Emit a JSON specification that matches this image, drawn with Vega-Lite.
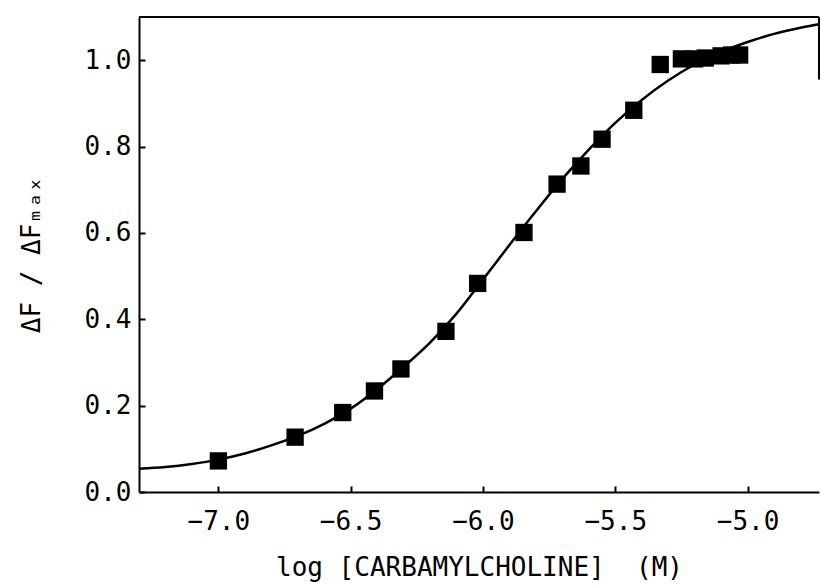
{
  "$schema": "https://vega.github.io/schema/vega-lite/v6.json",
  "width": 680,
  "height": 475,
  "autosize": {"type": "none"},
  "padding": {"left": 139, "top": 17, "right": 2, "bottom": 93},
  "background": "white",
  "config": {
    "view": {"stroke": null},
    "axis": {
      "grid": false,
      "domainColor": "black",
      "domainWidth": 2,
      "tickColor": "black",
      "tickWidth": 2,
      "tickSize": -6,
      "labelFont": "DejaVu Sans Mono",
      "labelFontSize": 26,
      "labelColor": "black",
      "titleFont": "DejaVu Sans Mono",
      "titleFontSize": 26,
      "titleFontWeight": "normal",
      "titleColor": "black"
    }
  },
  "datasets": {
    "points": [
      {"logc": -7.0, "ratio": 0.072},
      {"logc": -6.71, "ratio": 0.127},
      {"logc": -6.53, "ratio": 0.184},
      {"logc": -6.41, "ratio": 0.234},
      {"logc": -6.31, "ratio": 0.285},
      {"logc": -6.14, "ratio": 0.372},
      {"logc": -6.02, "ratio": 0.483},
      {"logc": -5.845, "ratio": 0.601},
      {"logc": -5.72, "ratio": 0.713},
      {"logc": -5.63, "ratio": 0.755},
      {"logc": -5.55, "ratio": 0.817},
      {"logc": -5.43, "ratio": 0.884},
      {"logc": -5.33, "ratio": 0.99},
      {"logc": -5.25, "ratio": 1.003},
      {"logc": -5.2, "ratio": 1.003},
      {"logc": -5.16, "ratio": 1.005},
      {"logc": -5.1, "ratio": 1.01},
      {"logc": -5.06, "ratio": 1.012},
      {"logc": -5.03, "ratio": 1.012}
    ],
    "curve": [
      {"logc": -7.3, "ratio": 0.054},
      {"logc": -7.2, "ratio": 0.058},
      {"logc": -7.1, "ratio": 0.065},
      {"logc": -7.0, "ratio": 0.075},
      {"logc": -6.9, "ratio": 0.089},
      {"logc": -6.8, "ratio": 0.108},
      {"logc": -6.7, "ratio": 0.13},
      {"logc": -6.6, "ratio": 0.158},
      {"logc": -6.5, "ratio": 0.193},
      {"logc": -6.4, "ratio": 0.238},
      {"logc": -6.3, "ratio": 0.29},
      {"logc": -6.2, "ratio": 0.346},
      {"logc": -6.1, "ratio": 0.413},
      {"logc": -6.0, "ratio": 0.492},
      {"logc": -5.9, "ratio": 0.572},
      {"logc": -5.8, "ratio": 0.65},
      {"logc": -5.7, "ratio": 0.725},
      {"logc": -5.6, "ratio": 0.793},
      {"logc": -5.5, "ratio": 0.855},
      {"logc": -5.4, "ratio": 0.908},
      {"logc": -5.3, "ratio": 0.953},
      {"logc": -5.2, "ratio": 0.99},
      {"logc": -5.1, "ratio": 1.019},
      {"logc": -5.0, "ratio": 1.042},
      {"logc": -4.9, "ratio": 1.061},
      {"logc": -4.8, "ratio": 1.075},
      {"logc": -4.73, "ratio": 1.083}
    ],
    "frameTop": [{"x1": -7.3, "x2": -4.73, "y1": 1.1}],
    "frameRight": [{"x1": -4.73, "y1": 0.955, "y2": 1.1}]
  },
  "layer": [
    {
      "data": {"name": "frameTop"},
      "mark": {"type": "rule", "color": "black", "strokeWidth": 2, "clip": false},
      "encoding": {
        "x": {"field": "x1", "type": "quantitative"},
        "x2": {"field": "x2"},
        "y": {"field": "y1", "type": "quantitative"}
      }
    },
    {
      "data": {"name": "frameRight"},
      "mark": {"type": "rule", "color": "black", "strokeWidth": 2, "clip": false},
      "encoding": {
        "x": {"field": "x1", "type": "quantitative"},
        "y": {"field": "y1", "type": "quantitative"},
        "y2": {"field": "y2"}
      }
    },
    {
      "data": {"name": "curve"},
      "mark": {"type": "line", "color": "black", "strokeWidth": 2.5, "interpolate": "monotone"},
      "encoding": {
        "x": {"field": "logc", "type": "quantitative"},
        "y": {"field": "ratio", "type": "quantitative"}
      }
    },
    {
      "data": {"name": "points"},
      "mark": {"type": "square", "color": "black", "filled": true, "opacity": 1, "size": 300},
      "encoding": {
        "x": {
          "field": "logc",
          "type": "quantitative",
          "scale": {"domain": [-7.3, -4.73], "nice": false, "zero": false},
          "axis": {
            "title": "log [CARBAMYLCHOLINE]\u00a0\u00a0(M)",
            "values": [-7.0, -6.5, -6.0, -5.5, -5.0],
            "format": ".1f",
            "labelPadding": 22,
            "titlePadding": 20
          }
        },
        "y": {
          "field": "ratio",
          "type": "quantitative",
          "scale": {"domain": [0, 1.1], "nice": false, "zero": false},
          "axis": {
            "title": "ΔF / ΔFₘₐₓ",
            "values": [0, 0.2, 0.4, 0.6, 0.8, 1.0],
            "format": ".1f",
            "labelPadding": 14,
            "titlePadding": 40
          }
        }
      }
    }
  ]
}
